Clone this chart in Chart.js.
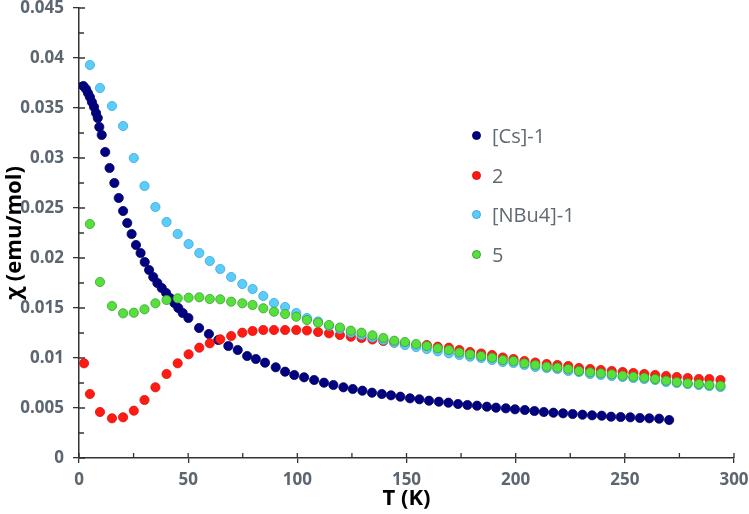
<!DOCTYPE html>
<html>
<head>
<meta charset="utf-8">
<script src="https://cdn.jsdelivr.net/npm/chart.js@4.4.1/dist/chart.umd.min.js"></script>
<style>
  body { margin: 0; background: #fff; }
  .wrap { position: relative; width: 749px; height: 514px; }
  #legend { position: absolute; left: 470px; top: 116px; font-family: 'Open Sans', sans-serif; font-size: 20px; color: #5f6a72; }
  #legend .row { height: 39.6px; display: flex; align-items: center; }
  #legend .dot { width: 9px; height: 9px; border-radius: 50%; box-sizing: border-box; border: 1px solid; margin-right: 11px; margin-left: 2px; }
</style>
</head>
<body>
<div class="wrap">
  <canvas id="chart" width="749" height="514"></canvas>
  <div id="legend"></div>
</div>
<script>
// [Cs]-1 (dense at low T)
const csT = [2.0, 3.2, 4.1, 5.0, 5.9, 6.9, 7.8, 8.6, 9.3, 10.4,
  12.0, 14.0, 16.2, 18.2, 20.2, 22.1, 24.1, 26.1, 28.2, 30.1,
  32.1, 34.0, 35.9, 37.9, 39.9, 41.7, 43.7, 45.5, 47.5, 50.1,
  55.0, 59.5, 63.8, 68.4, 72.7, 77.0, 81.0, 85.2, 90.1, 94.4,
  98.6, 103.1, 107.7, 112.2, 116.5, 121.1, 125.4, 129.8, 134.2, 138.7,
  142.9, 147.2, 151.6, 155.9, 160.3, 164.8, 169.2, 173.6, 177.9, 182.3,
  186.8, 191.0, 195.5, 199.7, 204.2, 208.6, 212.9, 217.3, 221.7, 226.1,
  230.6, 235.0, 239.4, 243.7, 248.1, 252.5, 256.9, 261.2, 265.7, 270.3];
const csChi = [0.0372, 0.0369, 0.0365, 0.0361, 0.0356, 0.0351, 0.0345, 0.0340, 0.0331, 0.0323,
  0.0306, 0.0290, 0.0275, 0.0260, 0.0247, 0.0235, 0.0224, 0.0213, 0.0205, 0.0196,
  0.0188, 0.0181, 0.0175, 0.0170, 0.0165, 0.0160, 0.0155, 0.0150, 0.0145, 0.0140,
  0.0130, 0.0124, 0.0118, 0.0112, 0.0108, 0.0102, 0.0099, 0.00953, 0.00907, 0.00863,
  0.0083, 0.00807, 0.0078, 0.00753, 0.0073, 0.00707, 0.0069, 0.00673, 0.00653, 0.0064,
  0.00627, 0.00613, 0.00597, 0.00587, 0.00573, 0.00563, 0.00553, 0.0054, 0.0053, 0.00523,
  0.00513, 0.00503, 0.00497, 0.00487, 0.0048, 0.0047, 0.0046, 0.00453, 0.00447, 0.0044,
  0.00433, 0.00427, 0.00423, 0.00413, 0.0041, 0.00407, 0.004, 0.00397, 0.00393, 0.0038];

// compound 2
const redT = [2.3, 5.0, 9.6, 15.1, 20.2, 25.1, 30.0, 35.0, 40.1, 45.2, 50.2,
  55.1, 59.9, 64.7, 69.7, 74.8, 79.5, 84.4, 89.3, 94.4, 99.5,
  104.4, 109.5, 114.5, 119.5, 124.5, 129.4, 134.4, 139.4, 144.4, 149.3,
  154.4, 159.3, 164.3, 169.4, 174.2, 179.1, 184.2, 189.2, 194.1, 199.0,
  204.0, 209.0, 214.2, 219.1, 224.1, 229.0, 234.1, 239.0, 244.0, 249.0,
  253.9, 258.9, 263.9, 268.9, 273.8, 278.8, 283.9, 288.7, 293.8];
const redChi = [0.00947, 0.0064, 0.0046, 0.00397, 0.00407, 0.00473, 0.0058, 0.00707, 0.0084, 0.00947, 0.01037,
  0.01103, 0.01147, 0.01187, 0.0122, 0.01253, 0.0127, 0.0128, 0.0128, 0.0128, 0.0128,
  0.01275, 0.0126, 0.01247, 0.0123, 0.01213, 0.0120, 0.01185, 0.0117, 0.01155, 0.0114,
  0.01127, 0.0113, 0.01113, 0.01103, 0.0108, 0.0106, 0.01045, 0.0103, 0.01005, 0.0099,
  0.0097, 0.00955, 0.0094, 0.0093, 0.0092, 0.0090, 0.0089, 0.0088, 0.0087, 0.0086,
  0.0085, 0.0084, 0.0083, 0.0082, 0.0081, 0.0080, 0.0079, 0.0079, 0.0078];

// [NBu4]-1 and 5 share the same temperature steps
const gridT = [5.0, 9.6, 15.1, 20.2, 25.1, 30.0, 35.0, 40.1, 45.2, 50.2,
  55.1, 59.9, 64.7, 69.7, 74.8, 79.5, 84.4, 89.3, 94.4, 99.5,
  104.4, 109.5, 114.5, 119.5, 124.5, 129.4, 134.4, 139.4, 144.4, 149.3,
  154.4, 159.3, 164.3, 169.4, 174.2, 179.1, 184.2, 189.2, 194.1, 199.0,
  204.0, 209.0, 214.2, 219.1, 224.1, 229.0, 234.1, 239.0, 244.0, 249.0,
  253.9, 258.9, 263.9, 268.9, 273.8, 278.8, 283.9, 288.7, 293.8];
const nbuChi = [0.0393, 0.0370, 0.0352, 0.0332, 0.0300, 0.0272, 0.0251, 0.0236, 0.0224, 0.0214,
  0.0205, 0.0197, 0.0189, 0.0181, 0.0174, 0.0169, 0.0162, 0.0155, 0.0151, 0.0145,
  0.0140, 0.01365, 0.0132, 0.0129, 0.01253, 0.0123, 0.01205, 0.0118, 0.01153, 0.0113,
  0.0111, 0.0109, 0.01067, 0.01047, 0.0103, 0.01013, 0.0100, 0.0098, 0.0096, 0.0095,
  0.0093, 0.0091, 0.0090, 0.0089, 0.0087, 0.0086, 0.0084, 0.0083, 0.0082, 0.0081,
  0.0080, 0.0079, 0.0078, 0.0076, 0.0075, 0.0074, 0.0073, 0.0072, 0.0071];
const fiveChi = [0.0234, 0.0176, 0.0152, 0.01447, 0.01453, 0.01487, 0.01547, 0.0158, 0.01597, 0.01603,
  0.01607, 0.0159, 0.01587, 0.01563, 0.01547, 0.0153, 0.01497, 0.01463, 0.0144, 0.01413,
  0.0138, 0.01353, 0.0133, 0.01305, 0.01273, 0.01253, 0.01227, 0.0120, 0.01173, 0.0116,
  0.0114, 0.0112, 0.01097, 0.0108, 0.01055, 0.01037, 0.0102, 0.01003, 0.0098, 0.0097,
  0.00947, 0.0093, 0.00913, 0.00903, 0.0089, 0.0087, 0.00857, 0.00847, 0.00837, 0.00823,
  0.00813, 0.00803, 0.0079, 0.00773, 0.0076, 0.00747, 0.0074, 0.0073, 0.00723];

const seriesNames = ['[Cs]-1', '2', '[NBu4]-1', '5'];
const fills = ['#020280', '#ff1a12', '#5cccfa', '#55e03c'];
const edges = ['#000066', '#e01010', '#3aa6dc', '#3c9f34'];

const pts = (xs, ys) => xs.map((x, i) => ({ x: x, y: ys[i] }));
const allData = [pts(csT, csChi), pts(redT, redChi), pts(gridT, nbuChi), pts(gridT, fiveChi)];

const tickFont = { family: 'Open Sans', size: 17, weight: 'bold', lineHeight: 1 };
const tickColor = '#5b6670';
const titleFont = { family: 'Open Sans', size: 22, weight: 'bold' };

// major ticks crossing the axis + small inner minor ticks
const axisTicks = {
  id: 'axisTicks',
  beforeDatasetsDraw(chart) {
    const ctx = chart.ctx;
    const xs = chart.scales.x, ys = chart.scales.y;
    const area = chart.chartArea;
    ctx.save();
    ctx.strokeStyle = '#333';
    ctx.lineWidth = 1.3;
    ctx.beginPath();
    const xt = xs.ticks.map(t => t.value);
    xt.forEach((v, i) => {
      const px = xs.getPixelForValue(v);
      ctx.moveTo(px, area.bottom); ctx.lineTo(px, area.bottom - 5);
      if (i < xt.length - 1) {
        const m = xs.getPixelForValue((v + xt[i + 1]) / 2);
        ctx.moveTo(m, area.bottom); ctx.lineTo(m, area.bottom - 5);
      }
    });
    const yt = ys.ticks.map(t => t.value);
    yt.forEach((v, i) => {
      const py = ys.getPixelForValue(v);
      ctx.moveTo(area.left, py); ctx.lineTo(area.left + 6, py);
      if (i < yt.length - 1) {
        const m = ys.getPixelForValue((v + yt[i + 1]) / 2);
        ctx.moveTo(area.left, m); ctx.lineTo(area.left + 5, m);
      }
    });
    ctx.stroke();
    ctx.restore();
  }
};

const chart = new Chart('chart', {
  type: 'scatter',
  data: {
    datasets: allData.map((d, i) => ({
      label: seriesNames[i],
      data: d,
      backgroundColor: fills[i],
      borderColor: edges[i],
      borderWidth: 0.8,
      pointRadius: 4.6,
      order: 4 - i
    }))
  },
  options: {
    responsive: false,
    animation: false,
    layout: { padding: { top: 8, right: 15, left: 0, bottom: 0 } },
    plugins: { legend: { display: false }, tooltip: { enabled: false } },
    scales: {
      x: {
        type: 'linear', min: 0, max: 300,
        afterFit(s) { s.height = 56; s.paddingRight = 0; s.paddingLeft = 0; },
        ticks: { stepSize: 50, color: tickColor, font: tickFont, padding: 9 },
        grid: { drawOnChartArea: false, drawTicks: true, tickLength: 5, color: '#333', lineWidth: 1.3 },
        border: { color: '#333', width: 1.5 },
        title: { display: true, text: 'T (K)', color: '#000', font: titleFont, padding: { top: 0, bottom: 2 } }
      },
      y: {
        min: 0, max: 0.045,
        afterFit(s) { s.width = 79; s.paddingTop = 0; },
        ticks: { stepSize: 0.005, color: tickColor, font: tickFont, padding: 9, callback: v => String(+v.toFixed(3)) },
        grid: { drawOnChartArea: false, drawTicks: true, tickLength: 6, color: '#333', lineWidth: 1.3 },
        border: { color: '#333', width: 1.5 },
        title: { display: true, text: 'χ (emu/mol)', color: '#000', font: titleFont, padding: { top: 2, bottom: 0 } }
      }
    }
  },
  plugins: [axisTicks]
});

// legend built from the datasets
const legendEl = document.getElementById('legend');
chart.data.datasets.forEach(ds => {
  const row = document.createElement('div');
  row.className = 'row';
  const dot = document.createElement('span');
  dot.className = 'dot';
  dot.style.background = ds.backgroundColor;
  dot.style.borderColor = ds.borderColor;
  const txt = document.createElement('span');
  txt.textContent = ds.label;
  row.appendChild(dot);
  row.appendChild(txt);
  legendEl.appendChild(row);
});
</script>
</body>
</html>
